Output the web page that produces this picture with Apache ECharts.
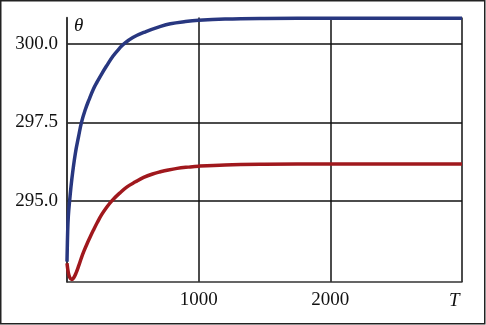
<!DOCTYPE html>
<html>
<head>
<meta charset="utf-8">
<script src="https://cdn.jsdelivr.net/npm/echarts@6/dist/echarts.min.js"></script>
<style>
  html, body { margin: 0; padding: 0; background: #fff; }
  #chart { width: 486px; height: 325px; }
</style>
</head>
<body>
<div id="chart"></div>
<script>
// time values T and theta
const blueT = [0, 5, 10, 20, 37, 63, 88, 110, 140, 165, 200, 230, 265, 300, 350, 400, 430, 500, 600, 700, 785, 900, 1000, 1200, 1500, 2000, 3000];
const blueTheta = [293.05, 294.0, 294.5, 295.0, 295.7, 296.5, 297.05, 297.5, 297.92, 298.2, 298.56, 298.8, 299.06, 299.3, 299.62, 299.87, 300.0, 300.21, 300.4, 300.55, 300.65, 300.72, 300.76, 300.8, 300.82, 300.83, 300.83];

const redT = [0, 10, 20, 35, 50, 70, 90, 110, 130, 150, 175, 200, 230, 263, 300, 342, 400, 456, 520, 582, 650, 709, 770, 836, 920, 1000, 1200, 1500, 2000, 3000];
const redTheta = [293.0, 292.7, 292.55, 292.48, 292.53, 292.7, 292.93, 293.18, 293.4, 293.6, 293.83, 294.05, 294.3, 294.55, 294.78, 295.0, 295.24, 295.44, 295.6, 295.74, 295.85, 295.92, 295.98, 296.03, 296.07, 296.1, 296.14, 296.16, 296.17, 296.17];

const yTicks = [295, 297.5, 300];
const xLabels = [1000, 2000];

const pairs = (xs, ys) => xs.map((x, i) => [x, ys[i]]);

const chart = echarts.init(document.getElementById('chart'));

const serif = '"Liberation Serif", "DejaVu Serif", serif';

const option = {
    animation: false,
    backgroundColor: '#fff',
    grid: {
        left: 67,
        top: 17.5,
        right: 24,
        bottom: 43,
        containLabel: false
    },
    xAxis: {
        type: 'value',
        min: 0,
        max: 3000,
        interval: 1000,
        axisLine: { show: true, lineStyle: { color: '#333', width: 1.5 } },
        axisTick: { show: false },
        splitLine: { show: true, lineStyle: { color: '#111', width: 1.5 } },
        axisLabel: {
            color: '#111',
            fontFamily: serif,
            fontSize: 19,
            margin: 9,
            formatter: v => (xLabels.indexOf(v) >= 0 ? String(v) : '')
        }
    },
    yAxis: {
        type: 'value',
        min: 292.4,
        max: 300.85,
        axisLine: { show: true, lineStyle: { color: '#333', width: 1.5 } },
        axisTick: { show: false, customValues: yTicks },
        splitLine: { show: true, lineStyle: { color: '#111', width: 1.5 } },
        axisLabel: {
            customValues: yTicks,
            color: '#111',
            fontFamily: serif,
            fontSize: 19,
            margin: 9,
            formatter: v => v.toFixed(1)
        }
    },
    graphic: [
        {
            type: 'rect',
            shape: { x: 0.75, y: 0.75, width: 484, height: 323 },
            style: { fill: 'none', stroke: '#222', lineWidth: 1.5 },
            z: 100
        },
        {
            type: 'text',
            left: 74,
            top: 16,
            style: { text: 'θ', font: 'italic 19px ' + serif, fill: '#111' }
        },
        {
            type: 'text',
            left: 449,
            top: 291,
            style: { text: 'T', font: 'italic 19px ' + serif, fill: '#111' }
        }
    ],
    series: [
        {
            name: 'red',
            type: 'line',
            symbol: 'none',
            smooth: 0.4,
            lineStyle: { color: '#a0181d', width: 3.5 },
            data: pairs(redT, redTheta)
        },
        {
            name: 'blue',
            type: 'line',
            symbol: 'none',
            smooth: 0.4,
            lineStyle: { color: '#283780', width: 3.5 },
            data: pairs(blueT, blueTheta)
        }
    ]
};

chart.setOption(option);
</script>
</body>
</html>
